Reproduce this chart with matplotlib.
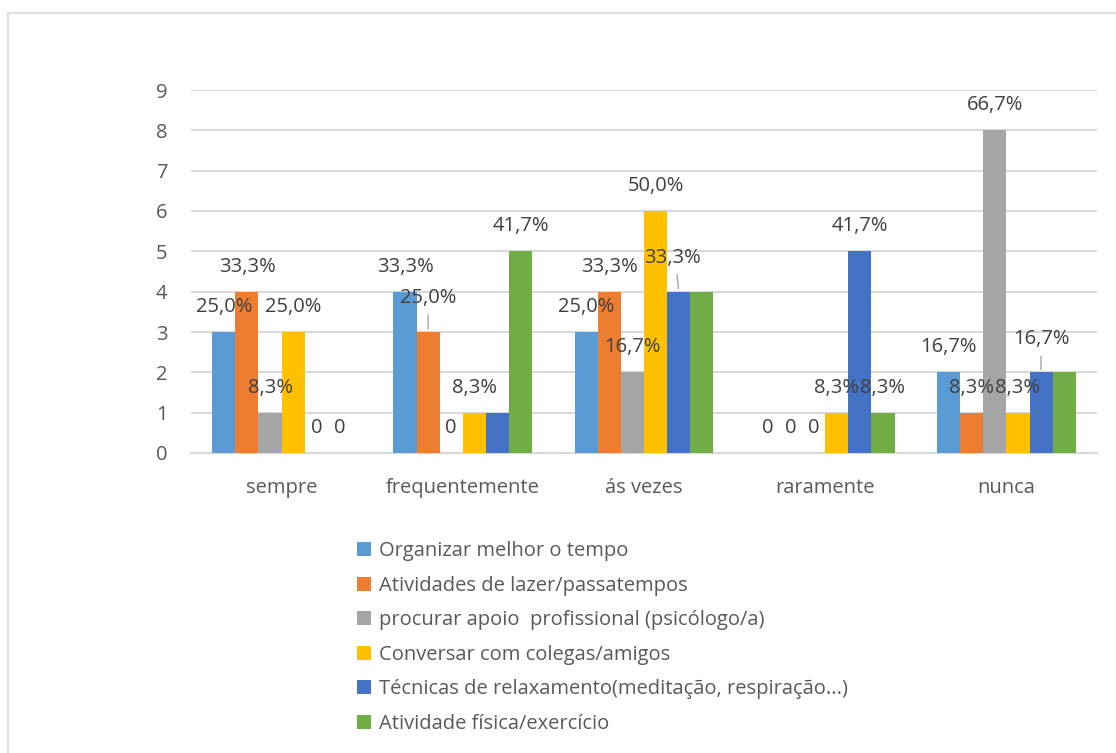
import matplotlib.pyplot as plt
import numpy as np
from matplotlib.patches import Rectangle

plt.rcParams["font.family"] = ["Open Sans", "DejaVu Sans"]

categories = ["sempre", "frequentemente", "ás vezes", "raramente", "nunca"]
series = [
    "Organizar melhor o tempo",
    "Atividades de lazer/passatempos",
    "procurar apoio  profissional (psicólogo/a)",
    "Conversar com colegas/amigos",
    "Técnicas de relaxamento(meditação, respiração...)",
    "Atividade física/exercício",
]
colors = ["#5B9BD5", "#ED7D31", "#A5A5A5", "#FFC000", "#4472C4", "#70AD47"]

organizar = [3, 4, 3, 0, 2]
lazer = [4, 3, 4, 0, 1]
apoio = [1, 0, 2, 0, 8]
conversar = [3, 1, 6, 1, 1]
relaxamento = [0, 1, 4, 5, 2]
fisica = [0, 5, 4, 1, 2]
values = [organizar, lazer, apoio, conversar, relaxamento, fisica]

# data labels as shown (None = no label)
lbl_organizar = ["25,0%", "33,3%", "25,0%", "0", "16,7%"]
lbl_lazer = ["33,3%", "25,0%", "33,3%", "0", "8,3%"]
lbl_apoio = ["8,3%", "0", "16,7%", "0", "66,7%"]
lbl_conversar = ["25,0%", "8,3%", "50,0%", "8,3%", "8,3%"]
lbl_relaxamento = ["0", None, "33,3%", "41,7%", "16,7%"]
lbl_fisica = ["0", "41,7%", None, "8,3%", None]
labels = [lbl_organizar, lbl_lazer, lbl_apoio, lbl_conversar, lbl_relaxamento, lbl_fisica]

# labels pushed up with a leader line: (series, category) -> (dx px, extra dy px)
moved = {(1, 1): (0, 9), (4, 2): (-6, 9), (4, 4): (0, 8)}

W, H = 1116, 753
fig = plt.figure(figsize=(W / 100, H / 100), dpi=100)
fig.patches.append(Rectangle((8 / W, -0.1), 1.2, 1 - 13 / H + 0.1, transform=fig.transFigure,
                             fill=False, edgecolor="#d9d9d9", linewidth=1.2))

ax = fig.add_axes([191 / W, 1 - 453 / H, 906 / W, 363 / H])
text_color = "#595959"
n = len(series)
bw = 0.1275
x = np.arange(len(categories))
for i, (name, vals, c) in enumerate(zip(series, values, colors)):
    pos = x + (i - (n - 1) / 2) * bw
    ax.bar(pos, vals, width=bw, color=c, label=name, zorder=3)
    for j, (p, v) in enumerate(zip(pos, vals)):
        lab = labels[i][j]
        if lab is None:
            continue
        dx, dy = moved.get((i, j), (0, 0))
        ax.annotate(lab, (p, v), xytext=(dx * 0.72, (25 + dy) * 0.72), textcoords="offset points",
                    ha="center", va="center", fontsize=14.5, color="#404040", zorder=5)
        if (i, j) in moved:
            ax.annotate("", (p, v), xytext=(dx * 0.72 * 0.3, (25 + dy - 14) * 0.72),
                        textcoords="offset points",
                        arrowprops=dict(arrowstyle="-", color="#a6a6a6", lw=1), zorder=4)

ax.set_xlim(-0.5, len(categories) - 0.5)
ax.set_ylim(0, 9)
ax.set_yticks(range(10))
ax.set_xticks(x)
ax.set_xticklabels(categories)
ax.yaxis.grid(True, color="#d9d9d9", linewidth=1.5, zorder=0)
ax.set_axisbelow(True)
for s in ["top", "right", "left"]:
    ax.spines[s].set_visible(False)
ax.spines["bottom"].set_color("#d9d9d9")
ax.spines["bottom"].set_linewidth(1.5)
ax.tick_params(axis="both", length=0, labelsize=14.5, colors=text_color)
ax.tick_params(axis="x", pad=18)
ax.tick_params(axis="y", pad=17)

leg = fig.legend(loc="upper left", bbox_to_anchor=(339 / W, 1 - 523 / H), frameon=False,
                 fontsize=14.5, labelcolor=text_color, handlelength=0.7, handleheight=0.7,
                 handletextpad=0.4, labelspacing=0.72)

fig.savefig("out.png", dpi=100)
